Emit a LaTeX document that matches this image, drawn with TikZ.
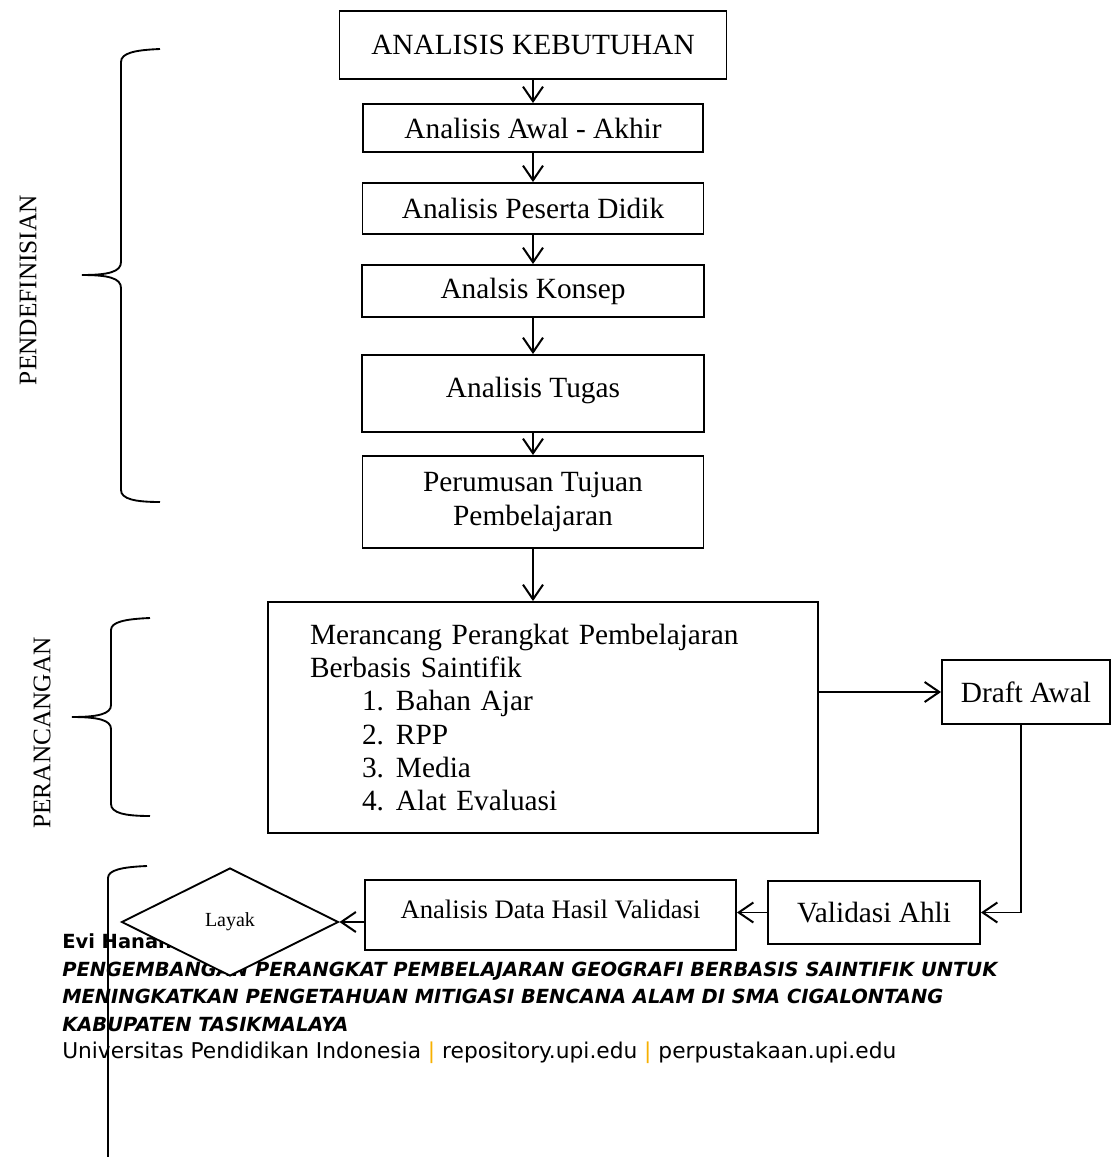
\documentclass[tikz,border=0pt]{standalone}
\usepackage{fontspec}
\setmainfont{Liberation Serif}
\newfontfamily\footfont{DejaVu Sans}
\usetikzlibrary{arrows.meta,shapes.geometric}
\definecolor{upigold}{RGB}{247,176,0}

\begin{document}
\begin{tikzpicture}[x=0.75pt, y=-0.75pt,
    kotak/.style={draw, line width=1.4pt, fill=white, inner sep=0pt, align=center,
        font=\fontsize{22}{25}\selectfont},
    panah/.style={line width=1.4pt, -{Straight Barb[length=11pt, width=15pt, line width=1.5pt]}},
    kurung/.style={line width=1.4pt},
    tahap/.style={rotate=90, font=\fontsize{19}{22}\selectfont},
    kaki/.style={anchor=base west, inner sep=0pt, font=\footfont\fontsize{14.6}{18}\selectfont}]
    \useasboundingbox (0,0) rectangle (1111,1157);

    % Kaki halaman (di belakang bagan)
    \node[kaki] (nama)   at (62,948)  {\bfseries Evi Hanan};
    \node[kaki] (judul1) at (62,976)  {\bfseries\itshape PENGEMBANGAN PERANGKAT PEMBELAJARAN GEOGRAFI BERBASIS SAINTIFIK UNTUK};
    \node[kaki] (judul2) at (62,1003) {\bfseries\itshape MENINGKATKAN PENGETAHUAN MITIGASI BENCANA ALAM DI SMA CIGALONTANG};
    \node[kaki] (judul3) at (62,1031) {\bfseries\itshape KABUPATEN TASIKMALAYA};
    \node[kaki, font=\footfont\fontsize{16.3}{18}\selectfont] (univ) at (62,1058)
        {Universitas Pendidikan Indonesia \textcolor{upigold}{|} repository.upi.edu \textcolor{upigold}{|} perpustakaan.upi.edu};

    % Tahap pendefinisian
    \node[kotak, minimum width=290.25pt, minimum height=51pt] (keb) at (533,45) {ANALISIS KEBUTUHAN};
    \node[kotak, minimum width=255pt, minimum height=36pt] (awal) at (533,128) {Analisis Awal - Akhir};
    \node[kotak, minimum width=255.75pt, minimum height=38.25pt] (peserta) at (533,208.5) {Analisis Peserta Didik};
    \node[kotak, minimum width=256.5pt, minimum height=39pt] (konsep) at (533,291) {Analsis Konsep};
    \node[kotak, minimum width=256.5pt, minimum height=57.75pt, text depth=10pt] (tugas) at (533,393.5) {Analisis Tugas};
    \node[kotak, minimum width=255.75pt, minimum height=69pt] (tujuan) at (533,502) {Perumusan Tujuan\\Pembelajaran};

    \foreach \a/\b in {keb/awal, awal/peserta, peserta/konsep, konsep/tugas, tugas/tujuan}
        \draw[panah] (\a) -- (\b);

    % Tahap perancangan
    \node[kotak, minimum width=412.5pt, minimum height=173.25pt, text width=349.5pt, align=left] (rancang) at (543,717.5)
        {Merancang Perangkat Pembelajaran\\
         Berbasis Saintifik\\
         \hspace*{39pt}\makebox[25.5pt][l]{1.}Bahan Ajar\\
         \hspace*{39pt}\makebox[25.5pt][l]{2.}RPP\\
         \hspace*{39pt}\makebox[25.5pt][l]{3.}Media\\
         \hspace*{39pt}\makebox[25.5pt][l]{4.}Alat Evaluasi};
    \node[kotak, minimum width=126pt, minimum height=48pt] (draft) at (1026,692) {Draft Awal};
    \node[kotak, minimum width=159pt, minimum height=47.25pt] (valid) at (874,912.5) {Validasi Ahli};
    \node[kotak, minimum width=278.25pt, minimum height=52.5pt, text depth=8pt,
        font=\fontsize{20}{24}\selectfont] (data) at (550.5,915) {Analisis Data Hasil Validasi};
    \node[draw, diamond, line width=1.4pt, fill=white, minimum width=162.75pt, minimum height=81pt,
        inner sep=0pt, font=\fontsize{15}{18}\selectfont] (layak) at (230,922) {Layak};

    \draw[panah] (tujuan.south) -- (tujuan.south |- rancang.north);
    \draw[panah] (rancang.east |- draft.west) -- (draft.west);
    \draw[panah] ([xshift=-3.75pt]draft.south) |- (valid.east);
    \draw[panah] (valid.west) -- (valid.west -| data.east);
    \draw[panah] (data.west |- layak.east) -- (layak.east);

    % Kurung kurawal dan nama tahap
    \draw[kurung] (160,49) .. controls (135,50) and (121,53) .. (121,62) -- (121,262)
        .. controls (121,272) and (108,275) .. (82,275) .. controls (108,275) and (121,278) .. (121,288)
        -- (121,490) .. controls (121,499) and (135,502) .. (160,502);
    \draw[kurung] (150,618) .. controls (125,619) and (111,622) .. (111,630) -- (111,705)
        .. controls (111,714) and (98,717) .. (72,717) .. controls (98,717) and (111,720) .. (111,729)
        -- (111,804) .. controls (111,813) and (125,816) .. (150,816);
    \draw[kurung] (147,866) .. controls (122,867) and (108,870) .. (108,878) -- (108,1157);

    \node[tahap] (definisi)  at (28,290) {PENDEFINISIAN};
    \node[tahap] (rancangan) at (42,733) {PERANCANGAN};
\end{tikzpicture}
\end{document}
